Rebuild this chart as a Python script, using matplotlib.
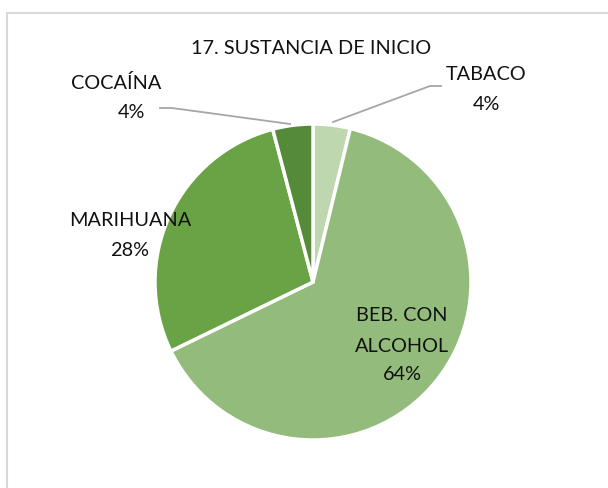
#!/usr/bin/env python3
"""Pie chart: 17. SUSTANCIA DE INICIO."""

import matplotlib

matplotlib.use("Agg")
import matplotlib.pyplot as plt
from matplotlib.patches import Rectangle

TITLE = "17. SUSTANCIA DE INICIO"
LABELS = ["TABACO", "BEB. CON\nALCOHOL", "MARIHUANA", "COCAÍNA"]
VALUES = [3.8, 64.0, 28.1, 4.1]
PCT_TEXT = ["4%", "64%", "28%", "4%"]
COLORS = ["#bed7ae", "#93bb7b", "#69a345", "#558a39"]

W, H, DPI = 608, 488, 100
CX, CY, R = 313, 282, 158  # pie centre and radius in pixels


def px(x, y):
    """Pixel position (top-left origin) -> data coordinates."""
    return (x - CX) / R, (CY - y) / R


plt.rcParams["font.family"] = ["Lato", "DejaVu Sans"]

fig = plt.figure(figsize=(W / DPI, H / DPI), dpi=DPI)
ax = fig.add_axes([0, 0, 1, 1])

ax.pie(
    VALUES,
    colors=COLORS,
    startangle=90,
    counterclock=False,
    radius=1.0,
    center=(0, 0),
    frame=True,
    wedgeprops={"edgecolor": "white", "linewidth": 2.5},
)
ax.set_xlim(-CX / R, (W - CX) / R)
ax.set_ylim(-(H - CY) / R, CY / R)
ax.axis("off")

# chart border (cropped on right/bottom)
fig.patches.append(
    Rectangle((7 / W, -0.1), 1.2, (H - 13) / H + 0.1, transform=fig.transFigure,
              fill=False, edgecolor="#d9d9d9", linewidth=1.5)
)

fs = 14.3
txt = {"fontsize": fs, "color": "#111111", "ha": "center", "va": "center"}
ax.text(*px(311, 48), TITLE, **txt)

# (name centre, pct centre) in pixels
label_pos = [
    ((486, 75), (486, 104)),
    ((402, 331), (402, 374)),
    ((130, 221), (130, 250)),
    ((116, 83), (131, 112)),
]
for lab, pct, (npos, ppos) in zip(LABELS, PCT_TEXT, label_pos):
    ax.text(*px(*npos), lab, linespacing=1.95, **txt)
    ax.text(*px(*ppos), pct, **txt)

# leader lines
line_kw = {"color": "#a6a6a6", "linewidth": 1.3}
ax.plot(*zip(px(333, 122), px(430, 86), px(441, 86)), **line_kw)
ax.plot(*zip(px(290, 124), px(172, 108), px(160, 108)), **line_kw)

fig.savefig("out.png", dpi=DPI)
